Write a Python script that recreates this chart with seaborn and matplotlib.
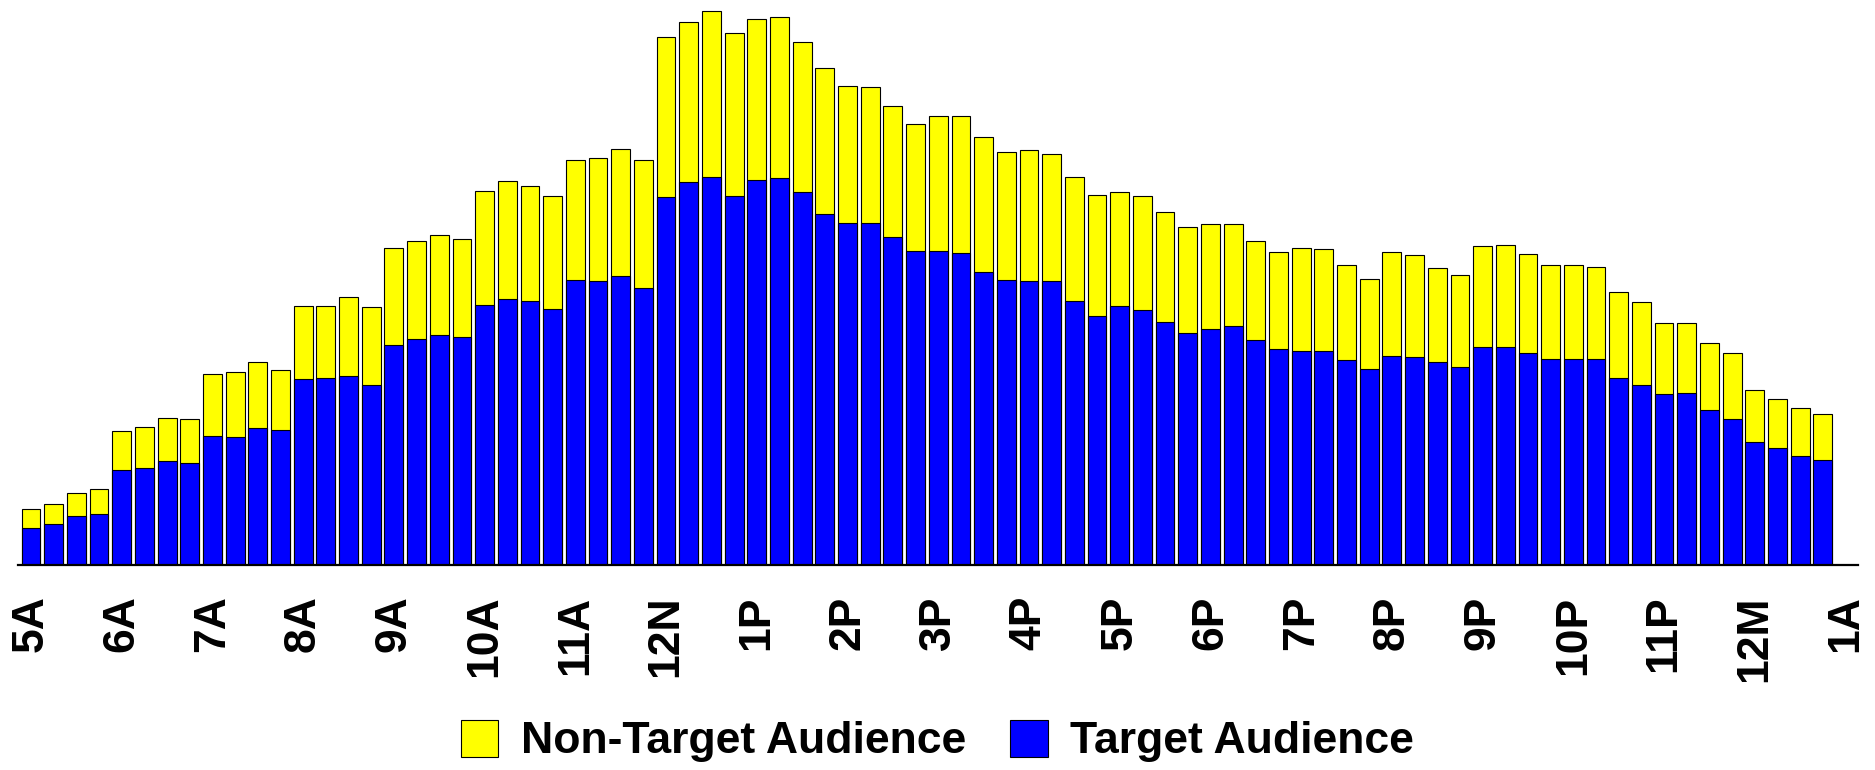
import numpy as np
import pandas as pd
import matplotlib
matplotlib.use("Agg")
import matplotlib.pyplot as plt
from matplotlib.patches import Patch
import seaborn as sns

# ---- data (arbitrary audience units) ----
hour_labels = ["5A", "6A", "7A", "8A", "9A", "10A", "11A", "12N", "1P", "2P", "3P",
               "4P", "5P", "6P", "7P", "8P", "9P", "10P", "11P", "12M", "1A"]

target = [30.8, 33.8, 40.9, 42.2, 79.4, 80.9, 86.5, 84.9, 107.1, 106.2, 114.2, 112.3,
          154.5, 155.4, 157.2, 149.5, 183.1, 188.3, 191.7, 189.8, 216.0, 221.5, 219.7, 212.6,
          237.2, 236.6, 240.6, 230.2, 306.2, 318.2, 322.8, 307.1, 320.6, 321.8, 310.5, 291.7,
          284.6, 284.3, 272.9, 261.2, 260.9, 259.7, 244.0, 236.9, 236.0, 236.0, 219.7, 207.1,
          215.4, 212.0, 202.5, 192.9, 196.6, 199.1, 187.4, 179.7, 178.2, 178.2, 170.8, 163.4,
          174.2, 173.2, 168.6, 164.3, 181.5, 181.2, 176.3, 171.4, 171.4, 171.7, 155.7, 149.5,
          142.2, 143.1, 128.9, 121.8, 102.5, 97.2, 90.5, 87.1]

non_target = [15.7, 17.0, 19.4, 21.2, 32.0, 34.2, 36.0, 36.3, 52.0, 54.7, 54.7, 49.9,
              60.9, 59.7, 65.9, 65.3, 80.6, 80.9, 82.5, 81.0, 95.4, 97.9, 95.4, 94.2,
              99.4, 101.6, 105.6, 107.0, 133.2, 133.5, 138.1, 135.4, 133.9, 133.9, 124.9, 121.8,
              114.2, 113.5, 108.9, 105.9, 112.3, 114.1, 112.0, 106.5, 108.9, 105.8, 103.1, 100.9,
              94.8, 94.8, 91.3, 88.6, 87.4, 84.9, 81.8, 80.3, 85.5, 84.6, 79.0, 74.1,
              85.8, 85.0, 78.5, 76.6, 84.0, 85.3, 82.5, 77.8, 78.1, 76.3, 71.4, 69.3,
              58.7, 58.1, 56.0, 54.5, 43.3, 41.0, 40.0, 38.4]

series_names = ["Non-Target Audience", "Target Audience"]
colors = ["#FFFF00", "#0000FF"]

# ---- build table ----
n = len(target)
slots = list(range(n))
df = pd.DataFrame({
    "slot": slots,
    "target": target,
    "total": np.array(target) + np.array(non_target),
})

sns.set_style("white")
plt.rcParams["font.family"] = ["Liberation Sans", "DejaVu Sans"]
plt.rcParams["text.color"] = "black"
plt.rcParams["xtick.color"] = "black"

fig = plt.figure(figsize=(18.75, 7.7), dpi=100)
ax = fig.add_axes([18.3 / 1875, (770 - 565) / 770, (1858 - 18.3) / 1875, 565 / 770])

bar_w = 0.83
sns.barplot(data=df, x="slot", y="total", color=colors[0], saturation=1,
            width=bar_w, edgecolor="black", linewidth=0.8, ax=ax)
sns.barplot(data=df, x="slot", y="target", color=colors[1], saturation=1,
            width=bar_w, edgecolor="black", linewidth=0.8, ax=ax)

ax.set_xlim(-0.56, 80.55)
ax.set_ylim(0, 470)
ax.set_xlabel("")
ax.set_ylabel("")
ax.set_yticks([])
ax.set_xticks(list(range(0, 4 * len(hour_labels), 4)))
ax.set_xticklabels(hour_labels, rotation=90, fontsize=32, fontweight="bold", color="black")
ax.tick_params(axis="x", length=0, pad=22, labelcolor="black")

for side in ["top", "right", "left"]:
    ax.spines[side].set_visible(False)
ax.spines["bottom"].set_color("black")
ax.spines["bottom"].set_linewidth(1.6)

handles = [Patch(facecolor=c, edgecolor="black", linewidth=0.8) for c in colors]
fig.legend(handles, series_names, loc="center", bbox_to_anchor=(0.5, 1 - 741 / 770),
           ncol=2, frameon=False, prop={"size": 32, "weight": "bold"},
           labelcolor="black",
           handlelength=0.85, handleheight=0.9, handletextpad=0.5, columnspacing=1.0,
           borderpad=0)

fig.savefig("out.png", dpi=100)
